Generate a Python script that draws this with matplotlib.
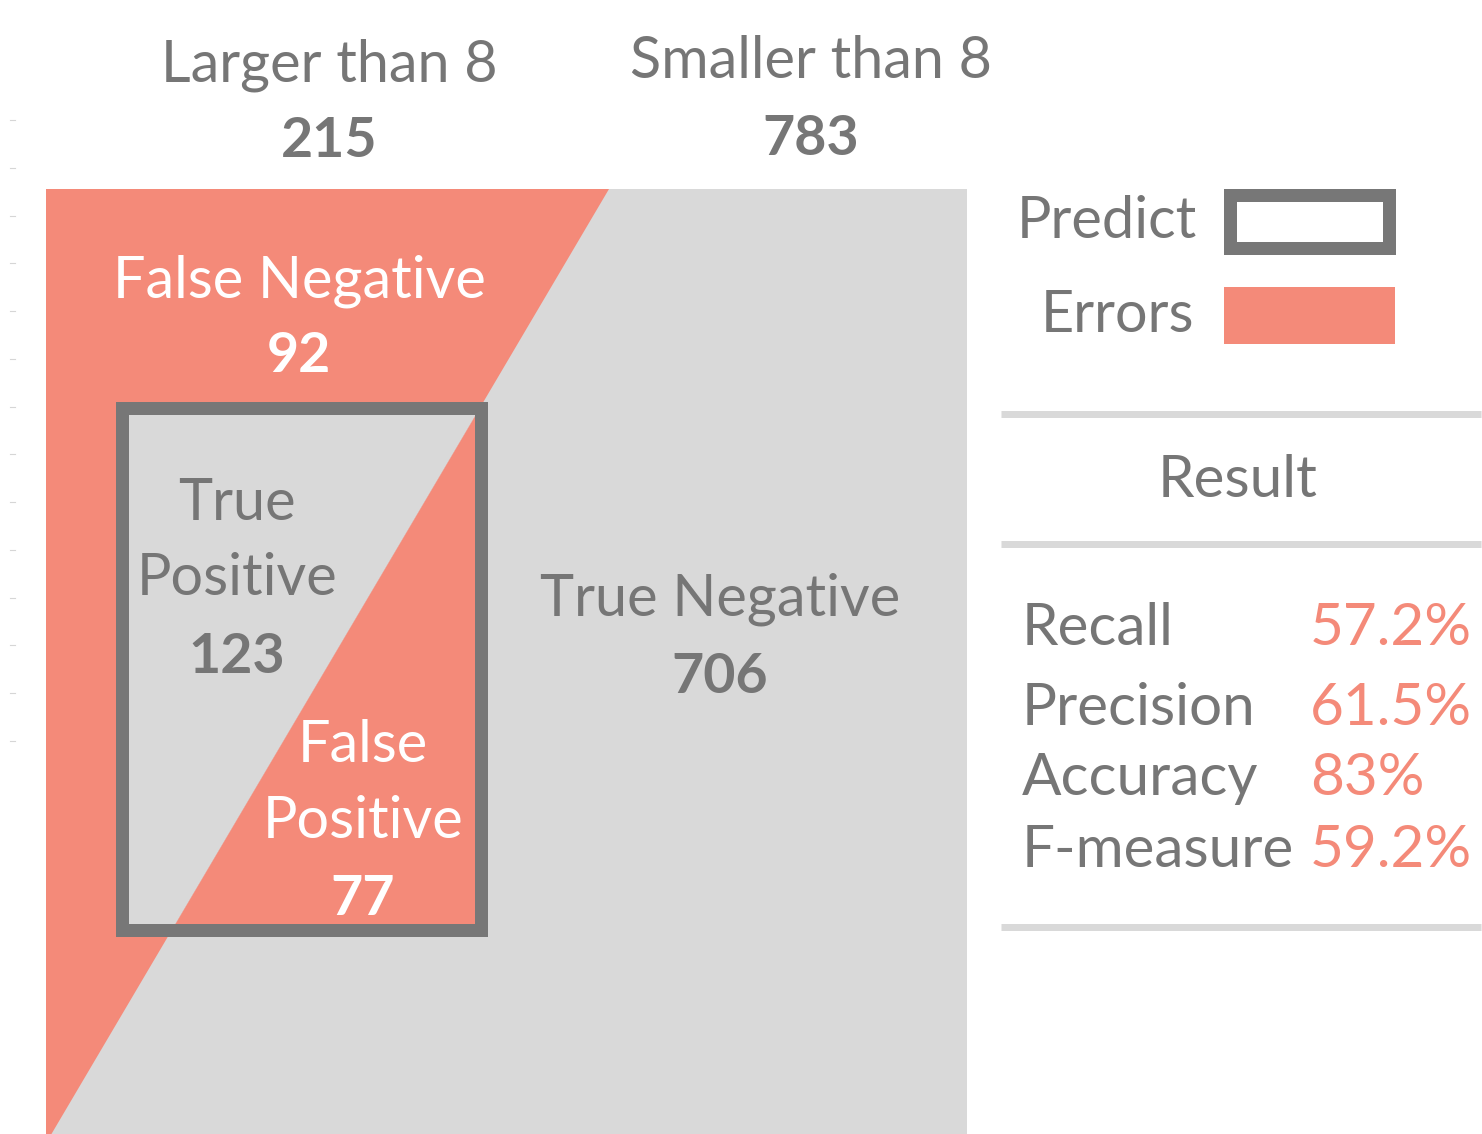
import numpy as np
import matplotlib
matplotlib.use("Agg")
import matplotlib.pyplot as plt
import matplotlib.patches as patches

# --- data ---
group_names = ["Larger than 8", "Smaller than 8"]
group_totals = [215, 783]
cell_names = ["False Negative", "True\nPositive", "False\nPositive", "True Negative"]
cell_counts = [92, 123, 77, 706]
legend_names = ["Predict", "Errors"]
result_title = "Result"
metric_names = ["Recall", "Precision", "Accuracy", "F-measure"]
metric_values = ["57.2%", "61.5%", "83%", "59.2%"]

# --- style ---
SALMON = "#F48A79"
LIGHT = "#D9D9D9"
DARK = "#777777"
TEXT = "#767676"
FONT = "Lato"
FS = 41.5

W, H = 1482, 1134
fig = plt.figure(figsize=(W / 100, H / 100), dpi=100)
ax = fig.add_axes([0, 0, 1, 1])
ax.set_xlim(0, W)
ax.set_ylim(H, 0)
ax.axis("off")

px = 0.72  # points per pixel at dpi 100


def diag_x(y):
    # the split line between errors and correct predictions
    return 609 - 0.59 * (y - 189)


def stack(x, baselines, lines, color, bold_last=True, ha="center"):
    for i, (yb, s) in enumerate(zip(baselines, lines)):
        w = "bold" if (bold_last and i == len(lines) - 1) else "normal"
        fs = 40 if w == "bold" else FS
        ax.text(x, yb, s, ha=ha, va="baseline", fontsize=fs, color=color,
                family=FONT, fontweight=w)


# faint leftover ticks on the far left
for yt in np.linspace(120, 741, 14):
    ax.plot([10, 15], [yt, yt], color="#d6d6d6", lw=0.8)

# main area
ax.add_patch(patches.Rectangle((46, 189), 921, H - 189, facecolor=LIGHT, edgecolor="none"))
ax.add_patch(patches.Polygon([(46, 189), (diag_x(189), 189), (diag_x(H), H), (46, H)],
                             closed=True, facecolor=SALMON, edgecolor="none"))

# predicted box: inside, colours swap across the same line
bx0, by0, bx1, by1 = 122, 407.5, 480.5, 930
clip = patches.Rectangle((bx0, by0), bx1 - bx0, by1 - by0, transform=ax.transData)
left = patches.Polygon([(bx0, by0), (diag_x(by0), by0), (diag_x(by1), by1), (bx0, by1)],
                       closed=True, facecolor=LIGHT, edgecolor="none")
right = patches.Polygon([(diag_x(by0), by0), (bx1, by0), (bx1, by1), (diag_x(by1), by1)],
                        closed=True, facecolor=SALMON, edgecolor="none")
for p in (left, right):
    ax.add_patch(p)
    p.set_clip_path(clip)
ax.add_patch(patches.Rectangle((bx0, by0), bx1 - bx0, by1 - by0, facecolor="none",
                               edgecolor=DARK, lw=13 * px, joinstyle="miter"))

# column headers
stack(329, [81, 157], [group_names[0], str(group_totals[0])], TEXT)
stack(811, [78, 155], [group_names[1], str(group_totals[1])], TEXT)

# cell labels
stack(299, [297, 372], [cell_names[0], str(cell_counts[0])], "white")
stack(237, [520, 595, 673], cell_names[1].split("\n") + [str(cell_counts[1])], TEXT)
stack(363, [762, 838, 915], cell_names[2].split("\n") + [str(cell_counts[2])], "white")
stack(720, [616, 693], [cell_names[3], str(cell_counts[3])], TEXT)

# legend
ax.text(1197, 238, legend_names[0], ha="right", va="baseline", fontsize=FS,
        color=TEXT, family=FONT)
ax.add_patch(patches.Rectangle((1229.5, 194.5), 159.5, 53.5, facecolor="white",
                               edgecolor=DARK, lw=13 * px, joinstyle="miter"))
ax.text(1194, 332, legend_names[1], ha="right", va="baseline", fontsize=FS,
        color=TEXT, family=FONT)
ax.add_patch(patches.Rectangle((1224, 287), 171, 57, facecolor=SALMON, edgecolor="none"))

# result table
for yl in (414, 544, 927):
    ax.plot([1001, 1481], [yl, yl], color=LIGHT, lw=7 * px, solid_capstyle="butt")
ax.text(1238, 497, result_title, ha="center", va="baseline", fontsize=42,
        color=TEXT, family=FONT)
for yb, name, val in zip([645, 725, 795, 867], metric_names, metric_values):
    ax.text(1022, yb, name, ha="left", va="baseline", fontsize=42, color=TEXT, family=FONT)
    ax.text(1310, yb, val, ha="left", va="baseline", fontsize=42, color=SALMON, family=FONT)

fig.savefig("out.png", dpi=100, facecolor="white")
